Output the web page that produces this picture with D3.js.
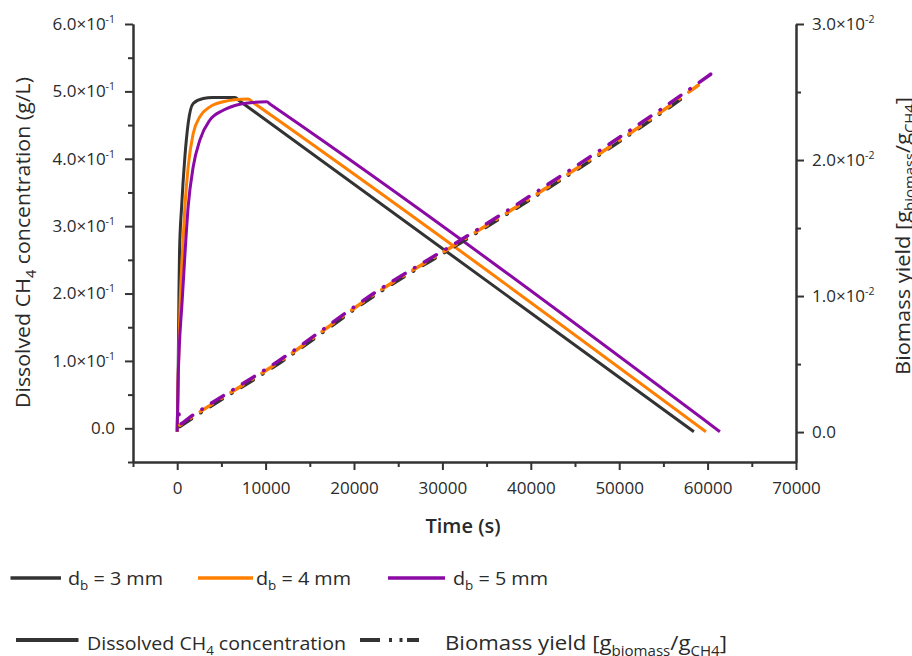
<!DOCTYPE html>
<html>
<head>
<meta charset="utf-8">
<script src="https://cdn.jsdelivr.net/npm/d3@7"></script>
<style>
  html, body { margin: 0; padding: 0; background: #ffffff; }
  svg { display: block; font-family: "Open Sans", "DejaVu Sans", sans-serif; }
</style>
</head>
<body>
<svg id="chart" width="912" height="656"></svg>
<script>
// ---------------- data ----------------
const bubbleDiameters = ["3", "4", "5"];            // d_b in mm

// Dissolved CH4 concentration (g/L) vs time (s)
const conc3mmTime  = [0, 100, 190, 260, 500, 870, 1240, 1810, 2940, 4000, 6530, 7030, 58450];
const conc3mmValue = [-0.005, 0.07, 0.19, 0.26, 0.329, 0.403, 0.4525, 0.482, 0.4895, 0.491, 0.491, 0.4862, -0.005];

const conc4mmTime  = [0, 100, 340, 600, 870, 1240, 1810, 2570, 3700, 5200, 6500, 8030, 8530, 59810];
const conc4mmValue = [-0.005, 0.07, 0.19, 0.262, 0.329, 0.388, 0.4375, 0.4625, 0.477, 0.4846, 0.4875, 0.4886, 0.484, -0.005];

const conc5mmTime  = [0, 100, 565, 870, 1240, 1810, 2570, 3700, 5200, 7090, 8500, 10110, 10610, 61390];
const conc5mmValue = [-0.005, 0.07, 0.19, 0.257, 0.329, 0.388, 0.428, 0.4575, 0.472, 0.481, 0.4835, 0.4846, 0.4801, -0.005];

// Biomass yield (g biomass / g CH4) vs time (s)
const yield3mmTime  = [300, 1440, 11620, 22930, 32020, 43330, 54640, 57920];
const yield3mmValue = [0.0004, 0.0009, 0.0051, 0.0103, 0.0139, 0.0185, 0.0234, 0.0249];

const yield4mmTime  = [300, 1440, 11620, 22930, 32020, 43330, 54640, 58940];
const yield4mmValue = [0.0005, 0.0010, 0.0052, 0.0104, 0.0140, 0.0186, 0.0235, 0.0255];

const yield5mmTime  = [200, 300, 1440, 11620, 22930, 32020, 43330, 54640, 61200];
const yield5mmValue = [0.0014, 0.0006, 0.0011, 0.0053, 0.0105, 0.0141, 0.0188, 0.0237, 0.0267];

// axis ticks and labels
const xTicks       = [0, 10000, 20000, 30000, 40000, 50000, 60000, 70000];
const xMinorTicks  = [-5000, 5000, 15000, 25000, 35000, 45000, 55000, 65000];
const leftTicks    = [0, 0.1, 0.2, 0.3, 0.4, 0.5, 0.6];
const leftLabels   = ["0.0", "1.0×10^-1", "2.0×10^-1", "3.0×10^-1", "4.0×10^-1", "5.0×10^-1", "6.0×10^-1"];
const leftMinor    = [-0.05, 0.05, 0.15, 0.25, 0.35, 0.45, 0.55];
const rightTicks   = [0, 0.01, 0.02, 0.03];
const rightLabels  = ["0.0", "1.0×10^-2", "2.0×10^-2", "3.0×10^-2"];
const rightMinor   = [0.005, 0.015, 0.025];

// ---------------- styles ----------------
const seriesColors = ["#333333", "#ff7f00", "#8b0aa5"];
const axisColor = "#333333";
const textColor = "#2a2a2a";

const svg = d3.select("#chart");

const x  = d3.scaleLinear().domain([-5000, 70000]).range([133, 796]);
const yL = d3.scaleLinear().domain([-0.05, 0.6]).range([462, 24]);
const yR = d3.scaleLinear().domain([-0.0022, 0.03]).range([462, 24]);

// Writes a label with optional ^superscript into an axis tick text
function superscriptLabel(textSel, label) {
  textSel.text(null);
  const parts = label.split("^");
  textSel.append("tspan").text(parts[0]);
  if (parts[1]) {
    textSel.append("tspan").attr("dy", "-7").attr("font-size", "10.5px").text(parts[1]);
  }
}

// Writes rich text segments (subscripts) at a given font size
function richText(textSel, segments, fs) {
  let shifted = false;
  segments.forEach(seg => {
    const t = textSel.append("tspan").text(seg.t);
    if (seg.sub) {
      t.attr("font-size", (fs * 0.68) + "px").attr("dy", shifted ? 0 : fs * 0.28);
      shifted = true;
    } else if (shifted) {
      t.attr("dy", -fs * 0.28);
      shifted = false;
    }
  });
}

function styleAxis(g) {
  g.selectAll("path.domain").attr("stroke", axisColor).attr("stroke-width", 2);
  g.selectAll(".tick line").attr("stroke", axisColor).attr("stroke-width", 2);
  g.attr("font-family", null).attr("font-size", 17);
  g.selectAll(".tick text").attr("fill", textColor);
}

// ---------------- axes ----------------
// minor ticks first, majors on top
svg.append("g").attr("transform", "translate(0,462)")
  .call(d3.axisBottom(x).tickValues(xMinorTicks).tickSize(5).tickSizeOuter(0).tickFormat(""))
  .call(styleAxis);
svg.append("g").attr("transform", "translate(133,0)")
  .call(d3.axisLeft(yL).tickValues(leftMinor).tickSize(5).tickSizeOuter(0).tickFormat(""))
  .call(styleAxis);
svg.append("g").attr("transform", "translate(796,0)")
  .call(d3.axisRight(yR).tickValues(rightMinor).tickSize(5).tickSizeOuter(0).tickFormat(""))
  .call(styleAxis);

const xAxis = svg.append("g").attr("transform", "translate(0,462)")
  .call(d3.axisBottom(x).tickValues(xTicks).tickSize(8).tickSizeOuter(0).tickPadding(12).tickFormat(d3.format("d")))
  .call(styleAxis);

const leftAxis = svg.append("g").attr("transform", "translate(133,0)")
  .call(d3.axisLeft(yL).tickValues(leftTicks).tickSize(8).tickSizeOuter(0).tickPadding(10))
  .call(styleAxis);
leftAxis.selectAll(".tick text").each(function (d, i) { superscriptLabel(d3.select(this), leftLabels[i]); });

const rightAxis = svg.append("g").attr("transform", "translate(796,0)")
  .call(d3.axisRight(yR).tickValues(rightTicks).tickSize(8).tickSizeOuter(0).tickPadding(8))
  .call(styleAxis);
rightAxis.selectAll(".tick text").each(function (d, i) { superscriptLabel(d3.select(this), rightLabels[i]); });

// ---------------- axis titles ----------------
svg.append("text")
  .attr("transform", "translate(30,242.5) rotate(-90)")
  .attr("text-anchor", "middle").attr("font-size", 20).attr("fill", textColor)
  .attr("textLength", 331).attr("lengthAdjust", "spacingAndGlyphs")
  .call(t => richText(t, [{ t: "Dissolved CH" }, { t: "4", sub: true }, { t: " concentration (g/L)" }], 20));

svg.append("text")
  .attr("transform", "translate(909.5,375) rotate(-90)")
  .attr("text-anchor", "start").attr("font-size", 20).attr("fill", textColor)
  .attr("textLength", 278).attr("lengthAdjust", "spacingAndGlyphs")
  .call(t => richText(t, [{ t: "Biomass yield [g" }, { t: "biomass", sub: true }, { t: "/g" }, { t: "CH4", sub: true }, { t: "]" }], 20));

svg.append("text")
  .attr("x", 463).attr("y", 533)
  .attr("text-anchor", "middle").attr("font-size", 20).attr("font-weight", 600).attr("fill", textColor)
  .text("Time (s)");

// ---------------- series ----------------
const concSeries = [
  { time: conc3mmTime, value: conc3mmValue },
  { time: conc4mmTime, value: conc4mmValue },
  { time: conc5mmTime, value: conc5mmValue }
];
const yieldSeries = [
  { time: yield3mmTime, value: yield3mmValue },
  { time: yield4mmTime, value: yield4mmValue },
  { time: yield5mmTime, value: yield5mmValue }
];

const concLine = d3.line()
  .x(d => x(d[0])).y(d => yL(d[1]))
  .curve(d3.curveMonotoneX);
const yieldLine = d3.line()
  .x(d => x(d[0])).y(d => yR(d[1]))
  .curve(d3.curveMonotoneX);

const plot = svg.append("g");

concSeries.forEach((s, i) => {
  plot.append("path")
    .attr("d", concLine(d3.zip(s.time, s.value)))
    .attr("fill", "none")
    .attr("stroke", seriesColors[i])
    .attr("stroke-width", 3)
    .attr("stroke-linejoin", "round");
});

const dashOffsets = [0, 12, 24];
yieldSeries.forEach((s, i) => {
  plot.append("path")
    .attr("d", yieldLine(d3.zip(s.time, s.value)))
    .attr("fill", "none")
    .attr("stroke", seriesColors[i])
    .attr("stroke-width", 3.5)
    .attr("stroke-linecap", "round")
    .attr("stroke-dasharray", "14,11,0.5,11")
    .attr("stroke-dashoffset", dashOffsets[i]);
});

// ---------------- legend ----------------
const legend = svg.append("g");
const legendSampleX = [[10.5, 61], [198, 253], [388, 445]];
const legendTextX = [68, 256, 453];

bubbleDiameters.forEach((dia, i) => {
  legend.append("line")
    .attr("x1", legendSampleX[i][0]).attr("x2", legendSampleX[i][1])
    .attr("y1", 578).attr("y2", 578)
    .attr("stroke", seriesColors[i]).attr("stroke-width", 3.5);
  legend.append("text")
    .attr("x", legendTextX[i]).attr("y", 584.5)
    .attr("font-size", 18).attr("fill", textColor)
    .attr("textLength", 95).attr("lengthAdjust", "spacingAndGlyphs")
    .call(t => richText(t, [{ t: "d" }, { t: "b", sub: true }, { t: " = " + dia + " mm" }], 18));
});

legend.append("line")
  .attr("x1", 16).attr("x2", 78.5).attr("y1", 640).attr("y2", 640)
  .attr("stroke", seriesColors[0]).attr("stroke-width", 4);
legend.append("text")
  .attr("x", 87).attr("y", 649.5)
  .attr("font-size", 18).attr("fill", textColor)
  .attr("textLength", 259).attr("lengthAdjust", "spacingAndGlyphs")
  .call(t => richText(t, [{ t: "Dissolved CH" }, { t: "4", sub: true }, { t: " concentration" }], 18));

legend.append("line")
  .attr("x1", 360).attr("x2", 419).attr("y1", 640).attr("y2", 640)
  .attr("stroke", seriesColors[0]).attr("stroke-width", 4)
  .attr("stroke-dasharray", "20,9,3,7.5,3,4.5,12");
legend.append("text")
  .attr("x", 445).attr("y", 650)
  .attr("font-size", 20).attr("fill", textColor)
  .attr("textLength", 282).attr("lengthAdjust", "spacingAndGlyphs")
  .call(t => richText(t, [{ t: "Biomass yield [g" }, { t: "biomass", sub: true }, { t: "/g" }, { t: "CH4", sub: true }, { t: "]" }], 20));
</script>
</body>
</html>
